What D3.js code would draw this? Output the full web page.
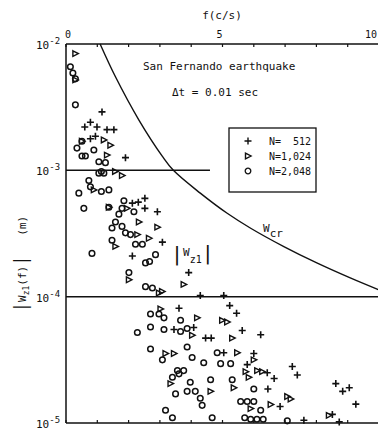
<!DOCTYPE html>
<html>
<head>
<meta charset="utf-8">
<script src="https://cdn.jsdelivr.net/npm/d3@7"></script>
<style>
  body { margin: 0; background: #fff; }
  svg text { font-family: "DejaVu Sans Mono", monospace; fill: #111; white-space: pre; }
</style>
</head>
<body>
<div id="chart"></div>
<script>
// f (c/s), |Wz1| (m)
const plus512 = [
  [1.15,2.9e-3],[0.78,2.4e-3],[0.60,2.2e-3],[0.99,2.2e-3],[1.31,2.1e-3],[1.53,2.1e-3],[0.94,1.86e-3],[0.78,1.78e-3],[1.9,1.26e-3],
  [2.52,6.0e-4],[2.12,5.5e-4],[2.31,5.6e-4],[2.52,5.0e-4],[2.92,4.7e-4],[3.08,2.7e-4],[2.12,2.1e-4],[3.92,1.55e-4],
  [4.29,1.02e-4],[5.04,1.02e-4],[5.23,8.5e-5],[5.45,7.4e-5],[5.63,5.4e-5],[6.22,5.0e-5],[4.08,5.7e-5],[4.46,4.7e-5],[4.64,4.7e-5],
  [6.0,3.55e-5],[5.79,2.9e-5],[6.43,2.5e-5],[6.65,2.25e-5],[7.23,2.8e-5],[7.39,2.4e-5],[6.45,1.86e-5],[8.62,2.05e-5],[8.84,1.78e-5],
  [9.05,1.9e-5],[9.26,1.41e-5],[6.84,1.35e-5],[8.51,1.17e-5],[7.6,1.05e-5],[8.73,1.02e-5],[3.61,8.1e-5],[3.45,5.5e-5],[5.04,3.6e-5]
];
const tri1024 = [
  [0.30,8.4e-3],[0.30,5.2e-3],[1.21,1.74e-3],[0.51,1.70e-3],[1.42,1.58e-3],[1.31,1.32e-3],[1.57,9.8e-4],[1.79,9.1e-4],[0.89,7.0e-4],
  [1.37,5.1e-4],[1.95,5.0e-4],[2.33,3.9e-4],[2.92,3.55e-4],[2.28,3.1e-4],[2.65,2.9e-4],[1.58,2.5e-4],[2.01,1.36e-4],[2.97,1.07e-4],
  [3.76,1.25e-4],[3.07,1.1e-4],[4.19,6.8e-5],[4.99,6.5e-5],[5.15,6.3e-5],[3.02,8.0e-5],[4.03,4.95e-5],[5.31,4.7e-5],[5.47,3.6e-5],
  [6.0,3.16e-5],[6.11,2.6e-5],[6.27,2.55e-5],[5.74,2.55e-5],[5.84,2.3e-5],[5.36,1.9e-5],[4.62,1.78e-5],[7.07,1.62e-5],[7.18,1.55e-5],
  [5.90,1.3e-5],[6.54,1.4e-5],[3.18,3.55e-5],[3.45,3.55e-5],[3.34,2.05e-5],[8.4,1.15e-5]
];
const circ2048 = [
  [0.14,6.6e-3],[0.22,5.9e-3],[0.30,5.3e-3],[0.30,3.3e-3],[0.51,1.70e-3],[0.35,1.50e-3],[0.89,1.45e-3],[0.51,1.30e-3],[0.62,1.30e-3],
  [1.05,1.17e-3],[1.26,1.15e-3],[1.13,9.8e-4],[1.05,9.5e-4],[1.21,9.5e-4],[0.73,8.3e-4],[0.78,7.4e-4],[0.41,6.6e-4],[1.13,6.8e-4],
  [1.37,7.0e-4],[1.85,5.75e-4],[0.57,5.0e-4],[1.37,5.1e-4],[1.79,5.0e-4],[2.17,4.7e-4],[1.69,4.5e-4],[1.58,3.9e-4],[1.79,3.6e-4],
  [1.47,3.5e-4],[1.9,3.2e-4],[2.06,3.1e-4],[1.47,2.8e-4],[2.22,2.6e-4],[2.44,2.6e-4],[0.83,2.2e-4],[2.86,2.15e-4],[2.54,1.85e-4],
  [2.67,1.9e-4],[2.01,1.55e-4],[2.54,1.2e-4],[2.76,1.17e-4],[2.70,7.3e-5],[2.97,7.3e-5],[3.13,6.8e-5],[3.66,6.5e-5],[2.28,5.2e-5],
  [2.70,5.75e-5],[3.13,5.5e-5],[3.66,5.3e-5],[3.87,5.6e-5],[2.70,3.85e-5],[3.08,3.16e-5],[3.56,2.6e-5],[3.61,2.45e-5],[3.4,2.3e-5],
  [3.5,1.7e-5],[3.18,1.26e-5],[3.4,1.1e-5],[3.87,4.0e-5],[4.03,3.3e-5],[4.40,3.0e-5],[4.83,3.6e-5],[4.94,2.95e-5],[5.26,2.95e-5],
  [3.76,2.6e-5],[3.97,2.1e-5],[4.62,2.2e-5],[5.31,2.2e-5],[6.0,1.86e-5],[3.87,1.78e-5],[4.13,1.78e-5],[4.29,1.57e-5],[4.35,1.38e-5],
  [5.58,1.48e-5],[5.79,1.48e-5],[6.0,1.48e-5],[6.22,1.26e-5],[4.67,1.1e-5],[5.71,1.1e-5],[5.9,1.07e-5],[6.1,1.07e-5],[6.3,1.07e-5],[7.07,1.04e-5]
];
// critical curve W_cr
const wcr = [
  [1.09,1.0e-2],[1.58,5.5e-3],[2.33,2.5e-3],[3.08,1.29e-3],[3.43,1.0e-3],[4.29,6.6e-4],[5.15,4.57e-4],
  [5.9,3.48e-4],[6.96,2.49e-4],[8.03,1.84e-4],[9.1,1.40e-4],[10,1.13e-4]
];
const xTicks = [0,1,2,3,4,5,6,7,8,9,10];
const xTickLabels = [0,5,10];
const yDecades = [-2,-3,-4,-5];
const legendLabels = ["N=  512","N=1,024","N=2,048"];

const width = 378, height = 433;
const svg = d3.select('#chart').append('svg')
  .attr('width', width).attr('height', height);

const x = d3.scaleLinear().domain([0, 10]).range([66, 379]);
const y = d3.scaleLog().domain([1e-5, 1e-2]).range([423, 44]);

const ink = '#111';

//@frame
function hline(v, f1, f2) {
  svg.append('line').attr('x1', x(f1)).attr('x2', x(f2)).attr('y1', y(v)).attr('y2', y(v))
    .attr('stroke', ink).attr('stroke-width', 1.5);
}
hline(1e-2, 0, 10);
hline(1e-5, 0, 10);
hline(1e-4, 0, 10);
hline(1e-3, 0, 4.6);
svg.append('line').attr('x1', x(0)).attr('x2', x(0)).attr('y1', y(1e-2)).attr('y2', y(1e-5))
  .attr('stroke', ink).attr('stroke-width', 1.5);

// ticks top and bottom
svg.selectAll('.tt').data(xTicks).enter().append('line')
  .attr('x1', d => x(d)).attr('x2', d => x(d))
  .attr('y1', y(1e-2)).attr('y2', y(1e-2) + 3)
  .attr('stroke', ink).attr('stroke-width', 1.2);
svg.selectAll('.bt').data(xTicks).enter().append('line')
  .attr('x1', d => x(d)).attr('x2', d => x(d))
  .attr('y1', y(1e-5)).attr('y2', y(1e-5) - 3)
  .attr('stroke', ink).attr('stroke-width', 1.2);

svg.selectAll('.xl').data(xTickLabels).enter().append('text')
  .attr('x', d => d === 10 ? x(d) - 8 : d === 0 ? x(d) + 2 : x(d) - 3)
  .attr('y', 38)
  .attr('text-anchor', 'middle')
  .style('font-size', '10px')
  .text(d => d);

svg.append('text').attr('x', 222).attr('y', 19).attr('text-anchor', 'middle')
  .style('font-size', '11px').text('f(c/s)');

// y decade labels
const yl = svg.selectAll('.yl').data(yDecades).enter().append('text')
  .attr('x', 36).attr('y', d => y(Math.pow(10, d)) + 5)
  .style('font-size', '11px');
yl.append('tspan').text('10');
yl.append('tspan').attr('dy', -5).style('font-size', '9px').text(d => d);

// y axis title
const yt = svg.append('text')
  .attr('transform', 'translate(26,264) rotate(-90)')
  .attr('text-anchor', 'middle')
  .style('font-size', '11px');
yt.append('tspan').style('font-size', '17px').attr('dy', 1).text('|');
yt.append('tspan').attr('dy', -1).text('W');
yt.append('tspan').attr('dy', 3).style('font-size', '8px').text('z1');
yt.append('tspan').attr('dy', -3).text('(f)');
yt.append('tspan').style('font-size', '17px').attr('dy', 1).text('|');
yt.append('tspan').attr('dy', -1).text('   (m)');

//@Wcr curve
const line = d3.line().x(d => x(d[0])).y(d => y(d[1])).curve(d3.curveCatmullRom);
svg.append('path').attr('d', line(wcr))
  .attr('fill', 'none').attr('stroke', ink).attr('stroke-width', 1.4);

const wl = svg.append('text').attr('x', 263).attr('y', 232).style('font-size', '11px');
wl.append('tspan').text('W');
wl.append('tspan').attr('dy', 5).text('cr');

const zl = svg.append('text').attr('x', 171).attr('y', 260).style('font-size', '11px');
zl.append('tspan').style('font-size', '20px').attr('dy', 1).text('|');
zl.append('tspan').attr('dy', -5).text('W');
zl.append('tspan').attr('dy', 7).style('font-size', '10px').text('z1');
zl.append('tspan').attr('dy', -3).style('font-size', '20px').text('|');

svg.append('text').attr('x', 143).attr('y', 70).style('font-size', '11px').text('San Fernando earthquake');
svg.append('text').attr('x', 172).attr('y', 96).style('font-size', '11px').text('\u0394t = 0.01 sec');

//@markers
const plusPath = 'M-3.5,0H3.5M0,-3.5V3.5';
const triPath = 'M-2.5,-2.8L3,0L-2.5,2.8Z';

svg.append('g').selectAll('path').data(plus512).enter().append('path')
  .attr('transform', d => `translate(${x(d[0])},${y(d[1])})`)
  .attr('d', plusPath).attr('stroke', ink).attr('stroke-width', 1.6).attr('fill', 'none');

svg.append('g').selectAll('path').data(tri1024).enter().append('path')
  .attr('transform', d => `translate(${x(d[0])},${y(d[1])})`)
  .attr('d', triPath).attr('stroke', ink).attr('stroke-width', 1.4).attr('fill', 'none');

svg.append('g').selectAll('circle').data(circ2048).enter().append('circle')
  .attr('cx', d => x(d[0])).attr('cy', d => y(d[1])).attr('r', 2.8)
  .attr('stroke', ink).attr('stroke-width', 1.5).attr('fill', 'none');

//@legend
const lg = svg.append('g');
lg.append('rect').attr('x', 229).attr('y', 128).attr('width', 87).attr('height', 64)
  .attr('fill', '#fff').attr('stroke', ink).attr('stroke-width', 1.3);
const rows = lg.selectAll('.row').data(legendLabels).enter().append('g')
  .attr('transform', (d, i) => `translate(248,${141 + i * 15})`);
rows.append('path').attr('d', (d, i) => i === 0 ? plusPath : i === 1 ? triPath : null)
  .attr('stroke', ink).attr('stroke-width', 1.4).attr('fill', 'none');
rows.filter((d, i) => i === 2).append('circle').attr('r', 2.8)
  .attr('stroke', ink).attr('stroke-width', 1.3).attr('fill', 'none');
rows.append('text').attr('x', 21).attr('y', 4).style('font-size', '10px').text(d => d);
</script>
</body>
</html>
